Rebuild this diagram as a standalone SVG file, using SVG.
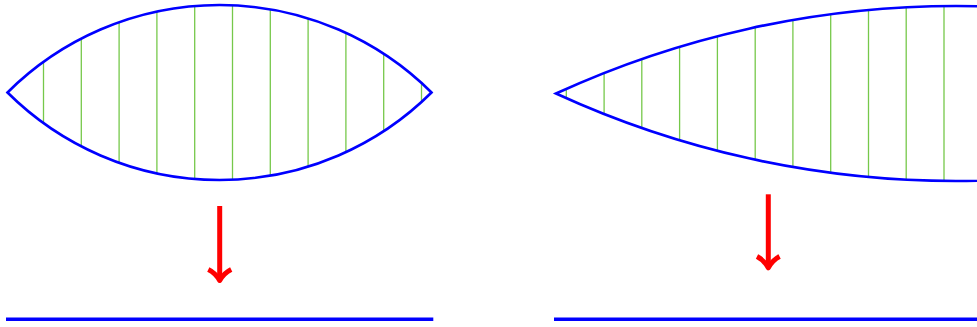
<svg xmlns="http://www.w3.org/2000/svg" width="977" height="327" viewBox="0 0 977 327">
<style>
.lens{fill:none;stroke:#0000ff;stroke-width:2.6;stroke-linejoin:miter}
.rule{stroke:#0000ff;stroke-width:3.6}
.hatch{stroke:#76c84a;stroke-width:1.3}
.arrow{fill:none;stroke:#ff0000;stroke-width:5;stroke-linecap:butt;stroke-linejoin:round}
</style>
<rect width="977" height="327" fill="#ffffff"/>
<g id="lens-left">
<g class="hatch">
<line x1="43.5" y1="61.9" x2="43.5" y2="123.1"/>
<line x1="81.3" y1="38.7" x2="81.3" y2="146.3"/>
<line x1="119.1" y1="22.3" x2="119.1" y2="162.7"/>
<line x1="156.9" y1="11.6" x2="156.9" y2="173.4"/>
<line x1="194.7" y1="6.0" x2="194.7" y2="179.0"/>
<line x1="232.5" y1="5.3" x2="232.5" y2="179.7"/>
<line x1="270.3" y1="9.3" x2="270.3" y2="175.7"/>
<line x1="308.1" y1="18.4" x2="308.1" y2="166.6"/>
<line x1="345.9" y1="32.9" x2="345.9" y2="152.1"/>
<line x1="383.7" y1="53.8" x2="383.7" y2="131.2"/>
<line x1="421.5" y1="83.0" x2="421.5" y2="102.0"/>
</g>
<path class="lens" d="M7.5,92.5 A300.6,300.6 0 0 1 431.5,92.5 A300.6,300.6 0 0 1 7.5,92.5 Z"/>
</g>
<g id="lens-right">
<g class="hatch">
<line x1="566.3" y1="88.8" x2="566.3" y2="98.2"/>
<line x1="604.1" y1="73.0" x2="604.1" y2="114.0"/>
<line x1="641.8" y1="59.0" x2="641.8" y2="128.0"/>
<line x1="679.6" y1="46.7" x2="679.6" y2="140.3"/>
<line x1="717.4" y1="36.2" x2="717.4" y2="150.8"/>
<line x1="755.2" y1="27.3" x2="755.2" y2="159.7"/>
<line x1="792.9" y1="20.0" x2="792.9" y2="167.0"/>
<line x1="830.7" y1="14.2" x2="830.7" y2="172.8"/>
<line x1="868.5" y1="10.0" x2="868.5" y2="177.0"/>
<line x1="906.2" y1="7.3" x2="906.2" y2="179.7"/>
<line x1="944.0" y1="6.1" x2="944.0" y2="180.9"/>
</g>
<path class="lens" d="M556,93.5 A958,958 0 0 1 1356,93.5 A958,958 0 0 1 556,93.5 Z"/>
</g>
<g id="line-left">
<line class="rule" x1="6" y1="319.3" x2="433.3" y2="319.3"/>
</g>
<g id="line-right">
<line class="rule" x1="554" y1="319.3" x2="977" y2="319.3"/>
</g>
<g id="connectors">
<path class="arrow" d="M219.7,206 L219.7,279"/>
<path class="arrow" d="M208.3,269.5 Q215.5,273 219.7,280.5 Q224,273 231.2,269.5"/>
<path class="arrow" d="M768.3,194.3 L768.3,266.5"/>
<path class="arrow" d="M757,256.5 Q764,260 768.3,267.8 Q772.6,260 779.6,256.5"/>
</g>
</svg>
